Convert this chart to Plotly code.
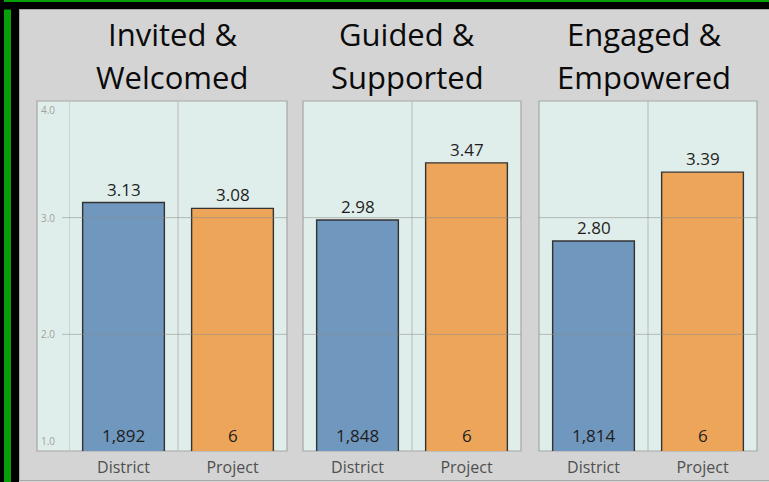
import plotly.graph_objects as go

# ---------------- data ----------------
title_line1 = ["Invited &", "Guided &", "Engaged &"]
title_line2 = ["Welcomed", "Supported", "Empowered"]
categories = ["District", "Project"]
district_scores = [3.13, 2.98, 2.80]
project_scores = [3.08, 3.47, 3.39]
district_counts = [1892, 1848, 1814]
project_counts = [6, 6, 6]
y_ticks = [1.0, 2.0, 3.0, 4.0]
grid_ticks = [2.0, 3.0]

# ---------------- layout helpers ----------------
W, H = 769, 482
def X(px):
    return px / W
def Y(py):
    return 1 - py / H

BG = "#d4d4d4"
PANEL = "#e0eeeb"
BORDER = "#a6a6a6"
BLUE = "#7097bd"
ORANGE = "#eda55a"
FONT = "Open Sans"

# panel pixel extents (data area), gutter for first panel
panels = [(69, 287), (303, 521), (539, 757)]
panel_left = [37, 303, 539]
title_cx = [172, 407, 644]
plot_top, plot_bot = 101, 451

fig = go.Figure()
shapes = []
annotations = []

# outer frame
shapes.append(dict(type="rect", xref="paper", yref="paper", x0=0, x1=X(19), y0=0, y1=1,
                   fillcolor="black", line=dict(width=0), layer="below"))
shapes.append(dict(type="rect", xref="paper", yref="paper", x0=X(4), x1=X(11), y0=0, y1=1,
                   fillcolor="#08a008", line=dict(width=0), layer="below"))
shapes.append(dict(type="rect", xref="paper", yref="paper", x0=0, x1=1, y0=Y(9.5), y1=1,
                   fillcolor="black", line=dict(width=0), layer="below"))
shapes.append(dict(type="rect", xref="paper", yref="paper", x0=X(4), x1=1, y0=Y(2), y1=1,
                   fillcolor="#08a008", line=dict(width=0), layer="below"))
shapes.append(dict(type="rect", xref="paper", yref="paper", x0=X(19.5), x1=X(775), y0=Y(480.5), y1=Y(9.5),
                   fillcolor="rgba(0,0,0,0)", line=dict(width=1, color="#a8a8a8"), layer="below"))

for i in range(3):
    n = "" if i == 0 else str(i + 1)
    xa, ya = "x" + n, "y" + n
    x0, x1 = panels[i]
    fig.add_trace(go.Bar(
        x=categories,
        y=[district_scores[i], project_scores[i]],
        marker=dict(color=[BLUE, ORANGE], line=dict(color="#333333", width=1.4)),
        width=0.75,
        xaxis=xa, yaxis=ya,
        showlegend=False, hoverinfo="skip",
    ))
    fig.update_layout(**{
        ("xaxis" + n): dict(domain=[X(x0), X(x1)], range=[-0.5, 1.5], anchor=ya,
                            showgrid=False, zeroline=False, showline=False, ticks="",
                            ticklabelstandoff=5,
                            tickfont=dict(family=FONT, size=16, color="#505050"),
                            fixedrange=True),
        ("yaxis" + n): dict(domain=[Y(plot_bot), Y(plot_top)], range=[y_ticks[0], y_ticks[-1]],
                            anchor=xa, showgrid=False, zeroline=False, showline=False,
                            showticklabels=False, ticks="", fixedrange=True),
    })
    # panel background + border
    shapes.append(dict(type="rect", xref="paper", yref="paper",
                       x0=X(panel_left[i]), x1=X(x1), y0=Y(plot_bot), y1=Y(plot_top),
                       fillcolor=PANEL, line=dict(color=BORDER, width=1.2), layer="below"))
    # vertical dividers between columns
    divs = [-0.5, 0.5] if i == 0 else [0.5]
    for d in divs:
        shapes.append(dict(type="line", xref=xa, yref="paper", x0=d, x1=d,
                           y0=Y(plot_bot), y1=Y(plot_top),
                           line=dict(color="#b8b8b8", width=1), layer="below"))
    # horizontal gridlines (drawn above bars)
    gx0 = 62 if i == 0 else panel_left[i]
    for g in grid_ticks:
        shapes.append(dict(type="line", xref="paper", yref=ya, x0=X(gx0), x1=X(x1), y0=g, y1=g,
                           line=dict(color="rgba(140,140,140,0.55)", width=1), layer="above"))
    # value labels above bars
    for cat, v in zip(categories, [district_scores[i], project_scores[i]]):
        annotations.append(dict(xref=xa, yref=ya, x=cat, y=v, text=f"{v:.2f}",
                                showarrow=False, yanchor="bottom", yshift=0,
                                font=dict(family=FONT, size=17, color="#1e1e1e")))
    # counts inside bars at the bottom
    for cat, c in zip(categories, [district_counts[i], project_counts[i]]):
        annotations.append(dict(xref=xa, yref=ya, x=cat, y=y_ticks[0], text=f"{c:,}",
                                showarrow=False, yanchor="bottom", yshift=2,
                                font=dict(family=FONT, size=17, color="#1e1e1e")))
    # titles
    annotations.append(dict(xref="paper", yref="paper", x=X(title_cx[i]), y=Y(34),
                            text=title_line1[i], showarrow=False, xanchor="center", yanchor="middle",
                            font=dict(family=FONT, size=31, color="#0a0a0a")))
    annotations.append(dict(xref="paper", yref="paper", x=X(title_cx[i]), y=Y(77),
                            text=title_line2[i], showarrow=False, xanchor="center", yanchor="middle",
                            font=dict(family=FONT, size=31, color="#0a0a0a")))

# y tick labels in first panel's gutter
for t in y_ticks:
    shift = -9 if t == y_ticks[-1] else (10 if t == y_ticks[0] else 0)
    annotations.append(dict(xref="paper", yref="y", x=X(39), y=t, text=f"{t:.1f}",
                            showarrow=False, xanchor="left", yanchor="middle", yshift=shift,
                            font=dict(family=FONT, size=10, color="#a0a0a0")))

fig.update_layout(
    width=W, height=H,
    margin=dict(l=0, r=0, t=0, b=0),
    paper_bgcolor=BG, plot_bgcolor="rgba(0,0,0,0)",
    shapes=shapes, annotations=annotations,
    bargap=0.25,
    showlegend=False,
)

fig.write_html("out.html", config={"displayModeBar": False},
               post_script="document.body.style.margin='0';document.body.style.overflow='hidden';")
